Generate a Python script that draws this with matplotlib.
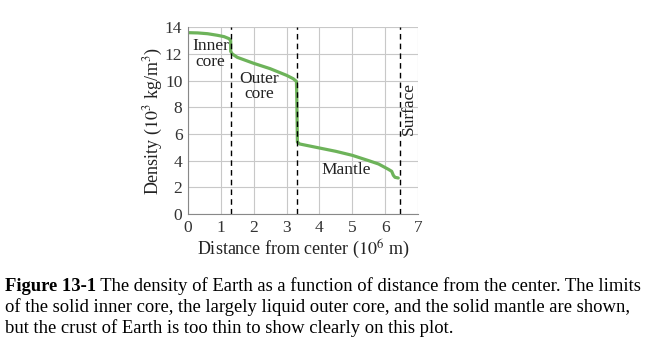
import numpy as np
import matplotlib.pyplot as plt

# density profile (r in 10^6 m, rho in 10^3 kg/m^3)
radius = [0.0, 0.3, 0.6, 0.9, 1.1, 1.25, 1.3, 1.3, 1.35, 1.5, 2.0, 2.5, 2.8, 3.0, 3.2, 3.3, 3.31, 3.33, 3.4,
          3.6, 4.0, 4.5, 5.0, 5.5, 5.8, 6.1, 6.2, 6.25, 6.3, 6.4]
density = [13.6, 13.58, 13.52, 13.4, 13.3, 13.15, 13.0, 12.2, 12.0, 11.75, 11.3, 10.9, 10.6, 10.4, 10.15, 9.95,
           9.0, 5.4, 5.25, 5.15, 4.95, 4.7, 4.4, 4.0, 3.75, 3.35, 3.2, 2.9, 2.75, 2.7]
boundaries = [1.3, 3.32, 6.44]
xticks = [0, 1, 2, 3, 4, 5, 6, 7]
yticks = [0, 2, 4, 6, 8, 10, 12, 14]

caption_bold = 'Figure 13-1'
caption_lines = [' The density of Earth as a function of distance from the center. The limits',
                 'of the solid inner core, the largely liquid outer core, and the solid mantle are shown,',
                 'but the crust of Earth is too thin to show clearly on this plot.']

plt.rcParams['font.family'] = ['Liberation Serif', 'DejaVu Serif']
plt.rcParams['mathtext.fontset'] = 'stix'

fig = plt.figure(figsize=(6.52, 3.54), dpi=100)
ax = fig.add_axes([0.2883, 0.3955, 0.3528, 0.5273])

ax.plot(radius, density, color='#6db35a', linewidth=2.3, solid_capstyle='round')
for b in boundaries:
    ax.axvline(b, color='black', linestyle=(0, (4, 3)), linewidth=1.0)

ax.set_xlim(0, 7)
ax.set_ylim(0, 14)
ax.set_xticks(xticks)
ax.set_yticks(yticks)
ax.grid(True, color='#c8c8c8', linewidth=0.8)
ax.tick_params(length=0, labelsize=12.5, colors='#333333', pad=4)
for s in ['top', 'right']:
    ax.spines[s].set_visible(False)
for s in ['left', 'bottom']:
    ax.spines[s].set_color('#888888')

lab = dict(fontsize=12.5, color='#222222')
ax.text(0.68, 12.0, 'Inner\ncore', ha='center', va='center', linespacing=0.95, **lab)
ax.text(2.16, 9.55, 'Outer\ncore', ha='center', va='center', linespacing=0.95, **lab)
ax.text(4.8, 3.3, 'Mantle', ha='center', va='center', **lab)
ax.text(6.72, 7.9, 'Surface', rotation=90, ha='center', va='center', **lab)

ax.set_xlabel('Distance from center ($10^6$ m)', fontsize=13, labelpad=2, color='#222222')
ax.set_ylabel('Density ($10^3$ kg/m$^3$)', fontsize=13, color='#222222')
ax.yaxis.set_label_coords(-0.10, 0.5)

# caption: bold label then regular text on the same baseline
cap_size = 13.4
t = fig.text(0.008, 0.178, caption_bold, fontsize=cap_size, fontweight='bold', va='baseline')
fig.canvas.draw()
bb = t.get_window_extent(fig.canvas.get_renderer())
fig.text(bb.x1 / fig.bbox.width, 0.178, caption_lines[0], fontsize=cap_size, va='baseline')
fig.text(0.008, 0.119, caption_lines[1], fontsize=cap_size, va='baseline')
fig.text(0.008, 0.060, caption_lines[2], fontsize=cap_size, va='baseline')

fig.savefig('out.png', dpi=100)
